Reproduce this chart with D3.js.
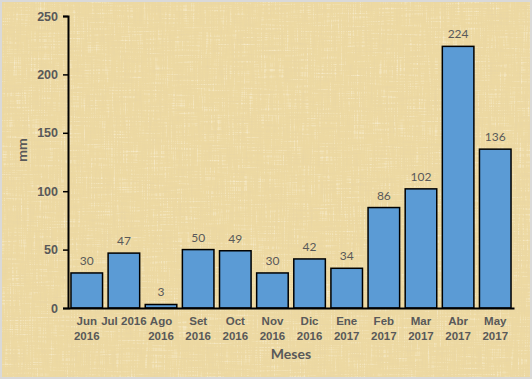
<!DOCTYPE html>
<html>
<head>
<meta charset="utf-8">
<script src="https://cdn.jsdelivr.net/npm/d3@7"></script>
<style>
  html, body { margin: 0; padding: 0; background: #fff; }
  svg { display: block; font-family: Lato, "Open Sans", "Liberation Sans", sans-serif; }
</style>
</head>
<body>
<div id="chart"></div>
<script>
// Chart values
const months = ['Jun 2016', 'Jul 2016', 'Ago 2016', 'Set 2016', 'Oct 2016', 'Nov 2016',
  'Dic 2016', 'Ene 2017', 'Feb 2017', 'Mar 2017', 'Abr 2017', 'May 2017'];
const rainfall = [30, 47, 3, 50, 49, 30, 42, 34, 86, 102, 224, 136];
const yTicks = [0, 50, 100, 150, 200, 250];

const chartWidth = 532, chartHeight = 379;
const margin = { top: 16, right: 18, bottom: 71, left: 68 };
const width = chartWidth - margin.left - margin.right;
const height = chartHeight - margin.top - margin.bottom;

const svg = d3.select('#chart').append('svg')
  .attr('width', chartWidth)
  .attr('height', chartHeight);

// Papyrus-like background: yellow tan base with light and dark fibre streaks
const defs = svg.append('defs');
const filter = defs.append('filter').attr('id', 'papyrus')
  .attr('x', 0).attr('y', 0).attr('width', '100%').attr('height', '100%');
filter.append('feTurbulence')
  .attr('type', 'fractalNoise')
  .attr('baseFrequency', '0.7 0.035')
  .attr('numOctaves', 2)
  .attr('seed', 3)
  .attr('result', 'noiseA');
filter.append('feTurbulence')
  .attr('type', 'fractalNoise')
  .attr('baseFrequency', '0.035 0.7')
  .attr('numOctaves', 2)
  .attr('seed', 7)
  .attr('result', 'noiseB');
filter.append('feComposite')
  .attr('in', 'noiseA').attr('in2', 'noiseB')
  .attr('operator', 'arithmetic')
  .attr('k1', 0).attr('k2', 0.5).attr('k3', 0.5).attr('k4', 0)
  .attr('result', 'noise');
// dark streaks
filter.append('feColorMatrix')
  .attr('in', 'noise')
  .attr('type', 'matrix')
  .attr('values', '0 0 0 0 0.80  0 0 0 0 0.66  0 0 0 0 0.38  2.4 0 0 0 -1.2')
  .attr('result', 'dark');
// light patches
filter.append('feColorMatrix')
  .attr('in', 'noise')
  .attr('type', 'matrix')
  .attr('values', '0 0 0 0 0.97  0 0 0 0 0.92  0 0 0 0 0.78  -2.4 0 0 0 1.1')
  .attr('result', 'light');
filter.append('feMerge').call(m => {
  m.append('feMergeNode').attr('in', 'dark');
  m.append('feMergeNode').attr('in', 'light');
});

svg.append('rect')
  .attr('width', chartWidth).attr('height', chartHeight)
  .attr('fill', '#d9d9d9');
svg.append('rect')
  .attr('x', 2).attr('y', 2)
  .attr('width', chartWidth - 4).attr('height', chartHeight - 4)
  .attr('fill', '#edd9a2');
svg.append('rect')
  .attr('x', 2).attr('y', 2)
  .attr('width', chartWidth - 4).attr('height', chartHeight - 4)
  .attr('filter', 'url(#papyrus)');

const g = svg.append('g')
  .attr('transform', `translate(${margin.left},${margin.top})`);

const x = d3.scaleBand().domain(months).range([0, width]).paddingInner(0.15).paddingOuter(0.08);
const y = d3.scaleLinear().domain([0, 250]).range([height, 0]);

// Bars
g.selectAll('.bar')
  .data(rainfall)
  .enter()
  .append('rect')
  .attr('class', 'bar')
  .attr('x', (d, i) => x(months[i]))
  .attr('y', d => y(d))
  .attr('width', x.bandwidth())
  .attr('height', d => height - y(d))
  .attr('fill', '#5b9bd5')
  .attr('stroke', '#000')
  .attr('stroke-width', 1.5);

// Value labels
g.selectAll('.value')
  .data(rainfall)
  .enter()
  .append('text')
  .attr('class', 'value')
  .attr('x', (d, i) => x(months[i]) + x.bandwidth() / 2)
  .attr('y', d => y(d) - 8)
  .attr('text-anchor', 'middle')
  .attr('fill', '#595959')
  .style('font-size', '12px')
  .text(d => d);

// Y axis
const yAxis = g.append('g')
  .call(d3.axisLeft(y).tickValues(yTicks).tickSize(5).tickPadding(5));
yAxis.select('.domain').attr('stroke', '#000').attr('stroke-width', 2);
yAxis.selectAll('.tick line').attr('stroke', '#000').attr('stroke-width', 1.5);
yAxis.selectAll('.tick text')
  .attr('fill', '#595959')
  .style('font-size', '12.5px')
  .style('font-weight', 'bold');

// X axis: baseline only, labels split on two lines (except Jul 2016)
const xAxis = g.append('g')
  .attr('transform', `translate(0,${height})`)
  .call(d3.axisBottom(x).tickSize(0).tickPadding(9).tickSizeOuter(0));
xAxis.select('.domain').attr('stroke', '#000').attr('stroke-width', 2);
xAxis.selectAll('.tick text')
  .attr('fill', '#595959')
  .style('font-size', '11.5px')
  .style('font-weight', 'bold')
  .each(function (d) {
    const t = d3.select(this);
    if (d === 'Jul 2016') return;
    const parts = d.split(' ');
    t.text(null);
    parts.forEach((p, k) => {
      t.append('tspan')
        .attr('x', 0)
        .attr('dy', k === 0 ? '0.71em' : '1.3em')
        .text(p);
    });
  });

// Axis titles
svg.append('text')
  .attr('transform', 'rotate(-90)')
  .attr('x', -150)
  .attr('y', 27)
  .attr('text-anchor', 'middle')
  .attr('fill', '#595959')
  .style('font-size', '14px')
  .style('font-weight', 'bold')
  .text('mm');

svg.append('text')
  .attr('x', margin.left + width / 2)
  .attr('y', 359)
  .attr('text-anchor', 'middle')
  .attr('fill', '#595959')
  .style('font-size', '14px')
  .style('font-weight', 'bold')
  .text('Meses');
</script>
</body>
</html>
